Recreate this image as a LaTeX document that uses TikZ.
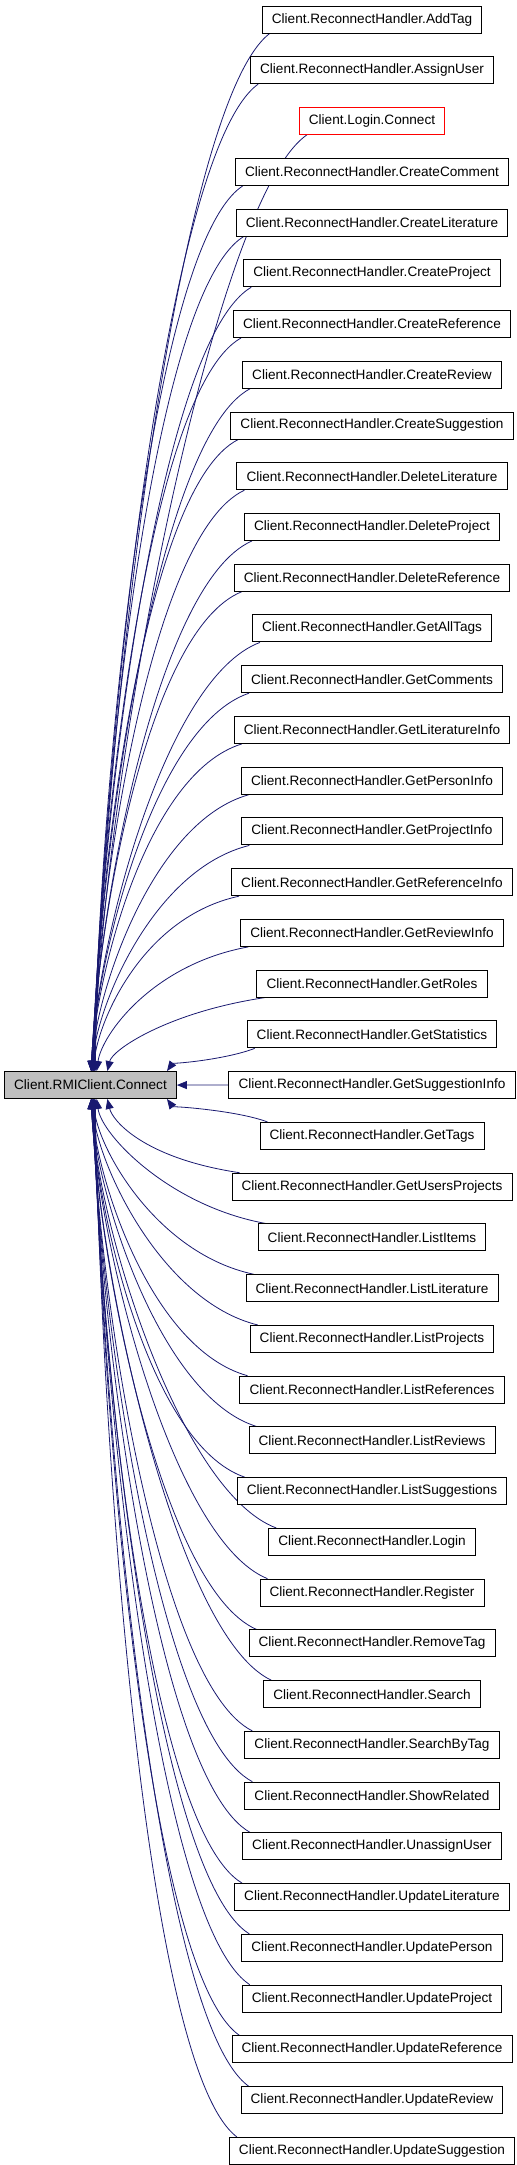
\documentclass[tikz,border=0pt]{standalone}
\usepackage{fontspec}
\setmainfont{Liberation Sans}
\usepackage{xcolor}
\usepackage{tikz}
\usetikzlibrary{positioning, arrows.meta, backgrounds}

\definecolor{edgeblue}{HTML}{191970}

\begin{document}
\begin{tikzpicture}[
    x=0.75pt, y=-0.75pt,
    node distance=38.06pt,
    box/.style={draw, rectangle, fill=white, align=center, minimum height=20.25pt, inner xsep=7.2pt, inner ysep=0pt, line width=0.7pt, font=\fontsize{10.2}{12}\selectfont},
    edge/.style={-{Triangle[length=7.5pt,width=6pt]}, edgeblue, line width=0.6pt}
]
    \useasboundingbox (0,0) rectangle (517,2165);

    \node (connect) [box, fill=gray!50] at (90.5,1085) {Client.RMIClient.Connect};

    \node (caller1) [box] at (372,19.5) {Client.ReconnectHandler.AddTag};
    \node (caller2) [box, below of=caller1] {Client.ReconnectHandler.AssignUser};
    \node (caller3) [box, below of=caller2, draw=red] {Client.Login.Connect};
    \node (caller4) [box, below of=caller3] {Client.ReconnectHandler.CreateComment};
    \node (caller5) [box, below of=caller4] {Client.ReconnectHandler.CreateLiterature};
    \node (caller6) [box, below of=caller5] {Client.ReconnectHandler.CreateProject};
    \node (caller7) [box, below of=caller6] {Client.ReconnectHandler.CreateReference};
    \node (caller8) [box, below of=caller7] {Client.ReconnectHandler.CreateReview};
    \node (caller9) [box, below of=caller8] {Client.ReconnectHandler.CreateSuggestion};
    \node (caller10) [box, below of=caller9] {Client.ReconnectHandler.DeleteLiterature};
    \node (caller11) [box, below of=caller10] {Client.ReconnectHandler.DeleteProject};
    \node (caller12) [box, below of=caller11] {Client.ReconnectHandler.DeleteReference};
    \node (caller13) [box, below of=caller12] {Client.ReconnectHandler.GetAllTags};
    \node (caller14) [box, below of=caller13] {Client.ReconnectHandler.GetComments};
    \node (caller15) [box, below of=caller14] {Client.ReconnectHandler.GetLiteratureInfo};
    \node (caller16) [box, below of=caller15] {Client.ReconnectHandler.GetPersonInfo};
    \node (caller17) [box, below of=caller16] {Client.ReconnectHandler.GetProjectInfo};
    \node (caller18) [box, below of=caller17] {Client.ReconnectHandler.GetReferenceInfo};
    \node (caller19) [box, below of=caller18] {Client.ReconnectHandler.GetReviewInfo};
    \node (caller20) [box, below of=caller19] {Client.ReconnectHandler.GetRoles};
    \node (caller21) [box, below of=caller20] {Client.ReconnectHandler.GetStatistics};
    \node (caller22) [box, below of=caller21] {Client.ReconnectHandler.GetSuggestionInfo};
    \node (caller23) [box, below of=caller22] {Client.ReconnectHandler.GetTags};
    \node (caller24) [box, below of=caller23] {Client.ReconnectHandler.GetUsersProjects};
    \node (caller25) [box, below of=caller24] {Client.ReconnectHandler.ListItems};
    \node (caller26) [box, below of=caller25] {Client.ReconnectHandler.ListLiterature};
    \node (caller27) [box, below of=caller26] {Client.ReconnectHandler.ListProjects};
    \node (caller28) [box, below of=caller27] {Client.ReconnectHandler.ListReferences};
    \node (caller29) [box, below of=caller28] {Client.ReconnectHandler.ListReviews};
    \node (caller30) [box, below of=caller29] {Client.ReconnectHandler.ListSuggestions};
    \node (caller31) [box, below of=caller30] {Client.ReconnectHandler.Login};
    \node (caller32) [box, below of=caller31] {Client.ReconnectHandler.Register};
    \node (caller33) [box, below of=caller32] {Client.ReconnectHandler.RemoveTag};
    \node (caller34) [box, below of=caller33] {Client.ReconnectHandler.Search};
    \node (caller35) [box, below of=caller34] {Client.ReconnectHandler.SearchByTag};
    \node (caller36) [box, below of=caller35] {Client.ReconnectHandler.ShowRelated};
    \node (caller37) [box, below of=caller36] {Client.ReconnectHandler.UnassignUser};
    \node (caller38) [box, below of=caller37] {Client.ReconnectHandler.UpdateLiterature};
    \node (caller39) [box, below of=caller38] {Client.ReconnectHandler.UpdatePerson};
    \node (caller40) [box, below of=caller39] {Client.ReconnectHandler.UpdateProject};
    \node (caller41) [box, below of=caller40] {Client.ReconnectHandler.UpdateReference};
    \node (caller42) [box, below of=caller41] {Client.ReconnectHandler.UpdateReview};
    \node (caller43) [box, below of=caller42] {Client.ReconnectHandler.UpdateSuggestion};

    % every caller points back to connect
    \begin{scope}[on background layer]
    \foreach \i in {1,...,43} {
        \pgfmathtruncatemacro\d{\i-22}
        \ifnum\d=0
            \draw [edge] (caller\i) -- (connect);
        \else
            \pgfmathsetmacro\xs{0.75*(82.5+0.4*abs(\d)+80/(\d*\d))}
            \pgfmathsetmacro\dy{50.75*abs(\d)-27}
            \pgfmathsetmacro\hx{abs(\d)==1 ? 30 : 96}
            \pgfmathsetmacro\va{0.06*\dy+10}
            \pgfmathsetmacro\vb{0.29*\dy}
            \ifnum\d<0
                \draw [edge] ([xshift=6pt]caller\i.south west) .. controls +(-\hx,\va) and +(5,-\vb) .. ([xshift=\xs pt]connect.north west);
            \else
                \draw [edge] ([xshift=6pt]caller\i.north west) .. controls +(-\hx,-\va) and +(5,\vb) .. ([xshift=\xs pt]connect.south west);
            \fi
        \fi
    }
    \end{scope}
\end{tikzpicture}
\end{document}
